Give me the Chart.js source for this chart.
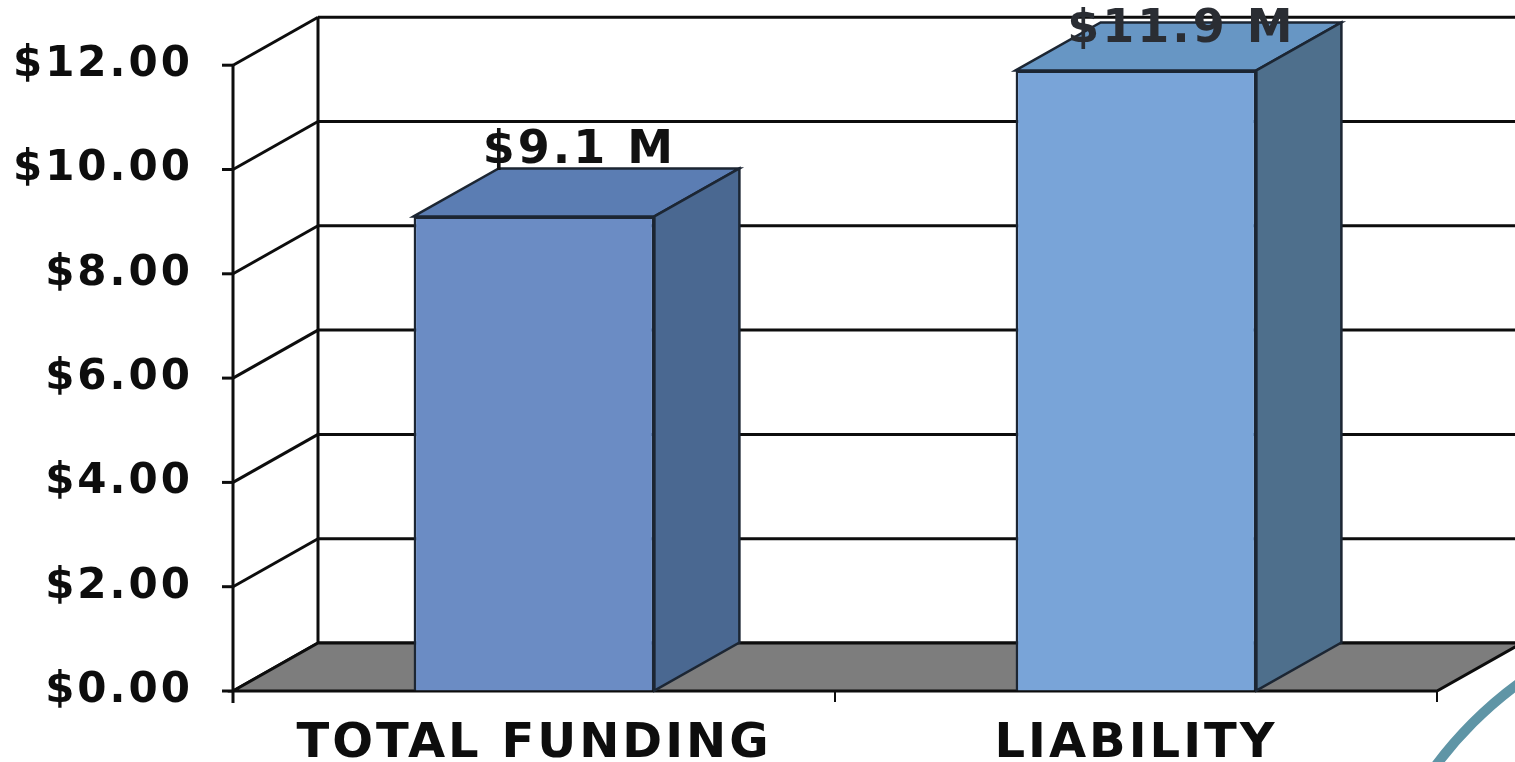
<!DOCTYPE html>
<html>
<head>
<meta charset="utf-8">
<script src="https://cdn.jsdelivr.net/npm/chart.js@4"></script>
<style>
  html, body { margin: 0; padding: 0; background: #fff; }
  canvas { display: block; }
</style>
</head>
<body>
<canvas id="fundingChart" width="1515" height="762"></canvas>
<script>
// chart data
const categories = ["TOTAL FUNDING", "LIABILITY"];
const amounts = [9.1, 11.9]; // millions
const yTicks = [0, 2, 4, 6, 8, 10, 12];

const frontColors = ["#6b8cc4", "#79a4d8"];
const topColors = ["#5b7db3", "#6796c4"];
const sideColors = ["#4a6891", "#4e6f8c"];

// depth of the 3D box
const DX = 85;
const DY = -48;
const FONT = "'DejaVu Sans', sans-serif";

const poly = (ctx, pts, fill, stroke, lw) => {
  ctx.beginPath();
  ctx.moveTo(pts[0][0], pts[0][1]);
  for (let i = 1; i < pts.length; i++) ctx.lineTo(pts[i][0], pts[i][1]);
  ctx.closePath();
  if (fill) { ctx.fillStyle = fill; ctx.fill(); }
  if (stroke) { ctx.strokeStyle = stroke; ctx.lineWidth = lw || 2; ctx.stroke(); }
};

const line = (ctx, x1, y1, x2, y2, lw) => {
  ctx.beginPath();
  ctx.moveTo(x1, y1);
  ctx.lineTo(x2, y2);
  ctx.lineWidth = lw || 3;
  ctx.strokeStyle = "#0d0d0d";
  ctx.stroke();
};

const box3d = {
  id: "box3d",
  beforeDraw(chart) {
    chart.ctx.letterSpacing = "3px";
  },
  beforeDatasetsDraw(chart) {
    const { ctx, chartArea: a, scales } = chart;
    const y = scales.y;
    const y0 = y.getPixelForValue(0);
    const yTop = y.getPixelForValue(yTicks[yTicks.length - 1]);
    ctx.save();
    // back wall + side wall grid lines
    yTicks.forEach((v) => {
      const py = y.getPixelForValue(v);
      line(ctx, a.left + DX, py + DY, a.right + DX, py + DY);
      line(ctx, a.left, py, a.left + DX, py + DY);
      line(ctx, a.left - 11, py, a.left, py); // tick mark
    });
    line(ctx, a.left + DX, yTop + DY, a.left + DX, y0 + DY);
    line(ctx, a.right + DX, yTop + DY, a.right + DX, y0 + DY);
    // floor
    poly(ctx, [[a.left, y0], [a.left + DX, y0 + DY], [a.right + DX, y0 + DY], [a.right, y0]], "#7d7d7d", "#0d0d0d", 3);
    // front axis line
    line(ctx, a.left, yTop, a.left, y0 + 12);
    // category tick marks
    const step = (a.right - a.left) / categories.length;
    for (let i = 1; i <= categories.length; i++) {
      line(ctx, a.left + step * i, y0, a.left + step * i, y0 + 11, 2);
    }
    ctx.restore();
  },
  afterDatasetsDraw(chart) {
    const { ctx } = chart;
    const meta = chart.getDatasetMeta(0);
    ctx.save();
    meta.data.forEach((bar, i) => {
      const x0 = bar.x - bar.width / 2;
      const x1 = bar.x + bar.width / 2;
      const t = bar.y;
      const b = bar.base;
      poly(ctx, [[x0, t], [x0 + DX, t + DY], [x1 + DX, t + DY], [x1, t]], topColors[i], "#1c2633", 2.5);
      poly(ctx, [[x1, t], [x1 + DX, t + DY], [x1 + DX, b + DY], [x1, b]], sideColors[i], "#1c2633", 2.5);
      // value label above the top face
      const label = "$" + amounts[i].toFixed(1) + " M";
      ctx.font = "bold 46px " + FONT;
      ctx.textAlign = "center";
      ctx.textBaseline = "alphabetic";
      ctx.fillStyle = i === 1 ? "#2a2d33" : "#111";
      const baseY = Math.max(t + DY - 5, 42);
      ctx.fillText(label, bar.x + DX / 2 + 3, baseY);
    });
    ctx.restore();
  },
  afterDraw(chart) {
    const { ctx } = chart;
    ctx.letterSpacing = "0px";
    // slide decoration in the corner
    ctx.save();
    ctx.beginPath();
    ctx.arc(1750, 1000, 392, Math.PI * 1.05, Math.PI * 1.45);
    ctx.strokeStyle = "#5f95a6";
    ctx.lineWidth = 10;
    ctx.stroke();
    ctx.restore();
  },
};

new Chart(document.getElementById("fundingChart"), {
  type: "bar",
  data: {
    labels: categories,
    datasets: [
      {
        data: amounts,
        backgroundColor: frontColors,
        borderColor: "#1c2633",
        borderWidth: 2.5,
        barPercentage: 0.4,
        categoryPercentage: 1.0,
      },
    ],
  },
  options: {
    responsive: false,
    animation: false,
    layout: { padding: { top: 61, right: 78, left: 0, bottom: 0 } },
    plugins: { legend: { display: false }, tooltip: { enabled: false } },
    scales: {
      y: {
        min: 0,
        max: 12,
        afterBuildTicks: (s) => { s.ticks = yTicks.map((v) => ({ value: v })); },
        ticks: {
          callback: (v) => "$" + Number(v).toFixed(2),
          font: { family: FONT, weight: "bold", size: 42 },
          color: "#0d0d0d",
          padding: 40,
        },
        grid: { color: "transparent", drawTicks: false },
        border: { display: false },
        afterFit: (s) => { s.width = 233; },
      },
      x: {
        ticks: {
          font: { family: FONT, weight: "bold", size: 48 },
          color: "#0d0d0d",
          padding: 25,
        },
        grid: { display: false, drawTicks: false },
        border: { display: false },
        afterFit: (s) => { s.height = 71; },
      },
    },
  },
  plugins: [box3d],
});
</script>
</body>
</html>
